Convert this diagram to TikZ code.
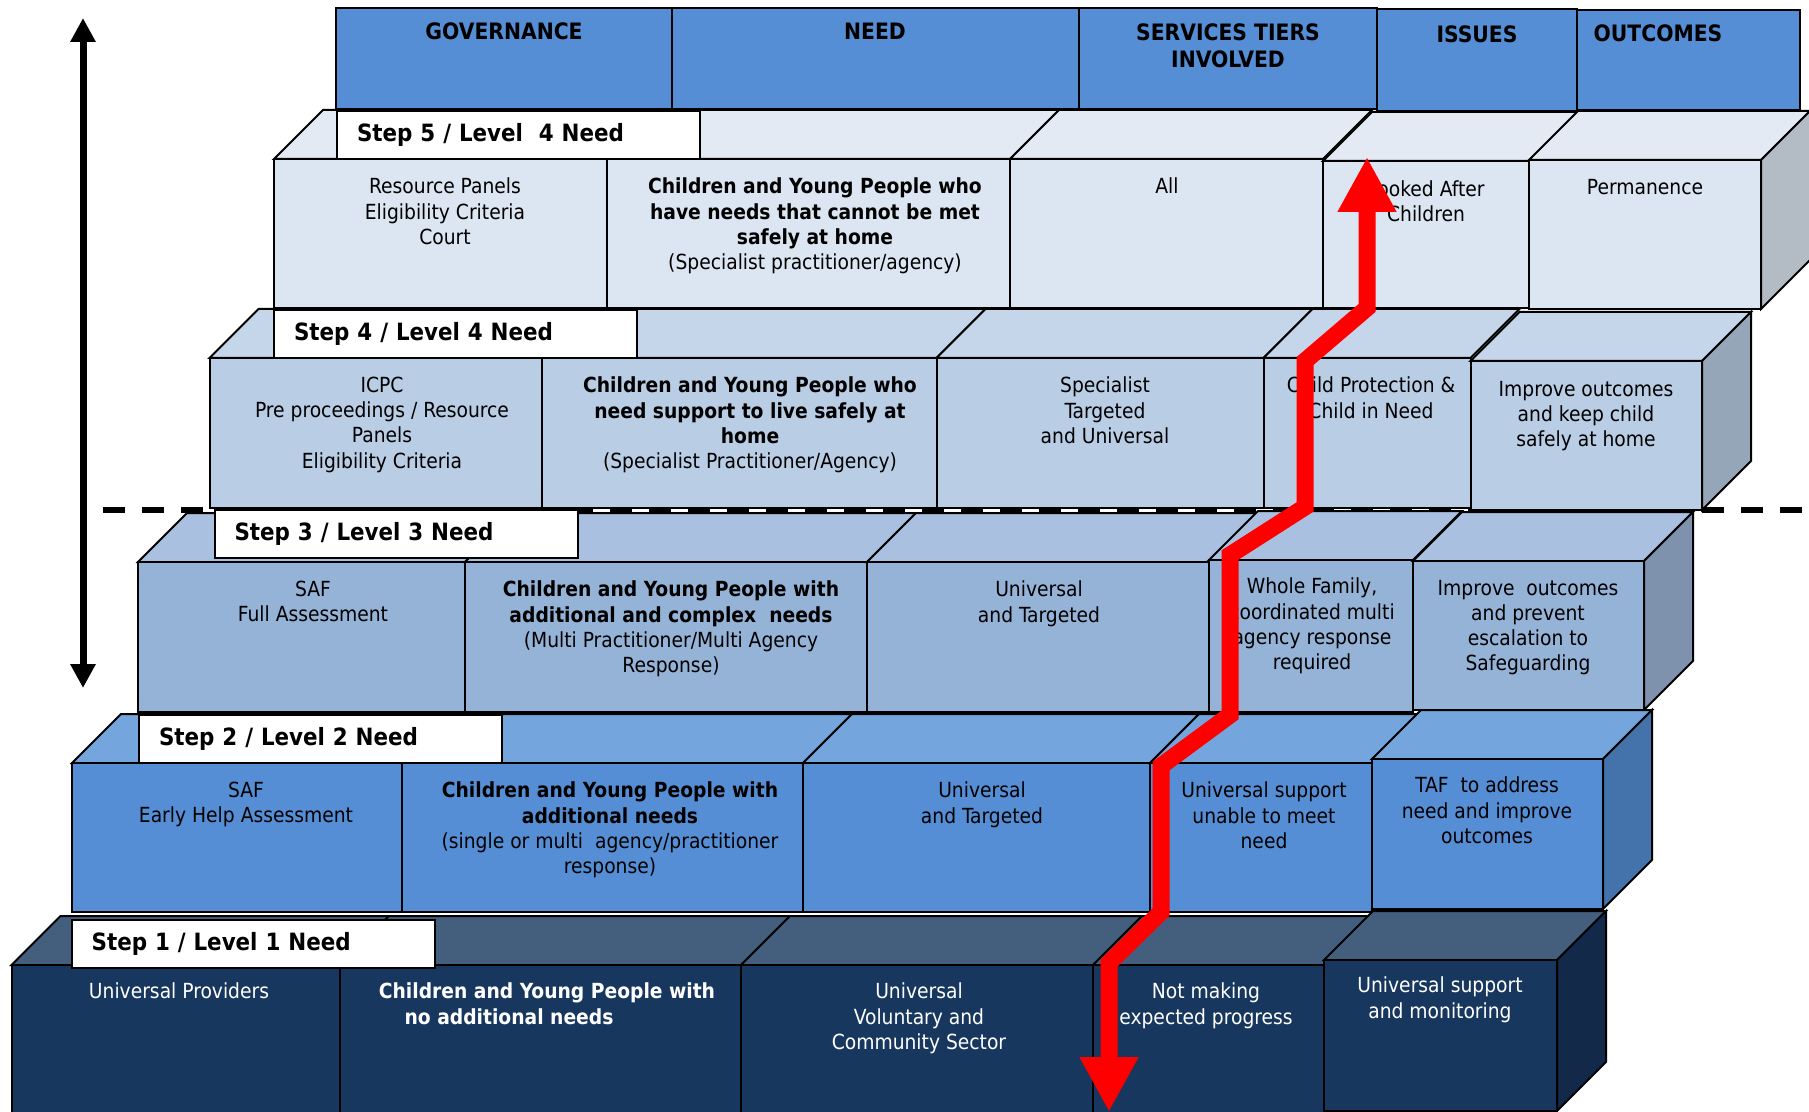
\documentclass[tikz,border=0pt]{standalone}
\usepackage{fontspec}
\setmainfont{DejaVu Sans Condensed}
\usetikzlibrary{arrows.meta}

\definecolor{head}{HTML}{558ED5}
\definecolor{front5}{HTML}{DCE6F2}
\definecolor{top5}{HTML}{E3EAF4}
\definecolor{side5}{HTML}{B3BBC5}
\definecolor{front4}{HTML}{B9CDE5}
\definecolor{top4}{HTML}{C6D6EA}
\definecolor{side4}{HTML}{95A6B8}
\definecolor{front3}{HTML}{95B3D7}
\definecolor{top3}{HTML}{AAC0E1}
\definecolor{side3}{HTML}{7E92AE}
\definecolor{front2}{HTML}{558ED5}
\definecolor{top2}{HTML}{74A5DD}
\definecolor{side2}{HTML}{4472AA}
\definecolor{front1}{HTML}{17375E}
\definecolor{top1}{HTML}{445F7E}
\definecolor{side1}{HTML}{12294A}

% one cell of a step: left, right, top, bottom, front colour, top colour
\newcommand{\stepcell}[6]{%
  \filldraw[fill=#6] (#1,#3) -- ++(49,-49) -- (#2+49,#3-49) -- (#2,#3) -- cycle;
  \filldraw[fill=#5] (#1,#3) rectangle (#2,#4);%
}
% side face at the right end: x, top, bottom, colour
\newcommand{\stepside}[4]{%
  \filldraw[fill=#4] (#1,#2) -- ++(49,-49) -- (#1+49,#3-49) -- (#1,#3) -- cycle;%
}

\begin{document}
\begin{tikzpicture}[x=0.5pt, y=-0.5pt, line width=1pt,
  headtext/.style={anchor=north, align=center, inner sep=0pt,
    font=\fontsize{11.3}{13.5}\selectfont\bfseries},
  celltext/.style={anchor=north, align=center, inner sep=0pt,
    font=\fontsize{10.4}{12.6}\selectfont},
  steplabel/.style={draw, fill=white, anchor=north west, text width=161.5pt,
    inner xsep=10pt, inner ysep=0pt, minimum height=24pt, align=left,
    font=\fontsize{11.9}{13}\selectfont\bfseries},
  levelline/.style={line width=3pt, dash pattern=on 11pt off 8.5pt},
  scalearrow/.style={line width=3.5pt,
    arrows={Triangle[width=12pt,length=12pt]-Triangle[width=12pt,length=12pt]}},
  redpath/.style={draw=red, line width=8.5pt,
    arrows={Triangle[width=27.5pt,length=27.5pt]-Triangle[width=27.5pt,length=27.5pt]}}]

\useasboundingbox (0,0) rectangle (1809,1112);

\draw[levelline] (103,510) -- (1809,510);

% header row
\filldraw[fill=head] (336,8) rectangle (672,109);
\filldraw[fill=head] (672,8) rectangle (1079,109);
\filldraw[fill=head] (1079,8) rectangle (1377,109);
\filldraw[fill=head] (1377,9) rectangle (1577,111);
\filldraw[fill=head] (1577,10) rectangle (1800,110);
\node[headtext] (hgov) at (504,22) {GOVERNANCE};
\node[headtext] (hneed) at (875,22) {NEED};
\node[headtext] (hserv) at (1228,23) {SERVICES TIERS\\INVOLVED};
\node[headtext] (hiss) at (1477,25) {ISSUES};
\node[headtext] (hout) at (1658,24) {OUTCOMES};

% step 5
\stepcell{274}{607}{159}{308}{front5}{top5}
\stepcell{607}{1010}{159}{308}{front5}{top5}
\stepcell{1010}{1323}{159}{308}{front5}{top5}
\stepcell{1323}{1529}{161}{308}{front5}{top5}
\stepcell{1529}{1761}{160}{309}{front5}{top5}
\stepside{1761}{160}{309}{side5}
\node[steplabel] (lab5) at (336,110) {Step 5 / Level\ \ 4 Need};
\node[celltext] (gov5) at (445,177) {Resource Panels\\Eligibility Criteria\\Court};
\node[celltext] (need5) at (815,177) {\textbf{Children and Young People who}\\\textbf{have needs that cannot be met}\\\textbf{safely at home}\\(Specialist practitioner/agency)};
\node[celltext] (serv5) at (1167,177) {All};
\node[celltext] (iss5) at (1426,180) {Looked After\\Children};
\node[celltext] (out5) at (1645,178) {Permanence};

% step 4
\stepcell{209.5}{542}{358}{508}{front4}{top4}
\stepcell{542}{936.5}{358}{508}{front4}{top4}
\stepcell{936.5}{1263.5}{358}{508}{front4}{top4}
\stepcell{1263.5}{1470.5}{358}{508}{front4}{top4}
\stepcell{1470.5}{1702}{361}{510}{front4}{top4}
\stepside{1702}{361}{510}{side4}
\node[steplabel] (lab4) at (273,309) {Step 4 / Level 4 Need};
\node[celltext] (gov4) at (382,376) {ICPC\\Pre proceedings / Resource\\Panels\\Eligibility Criteria};
\node[celltext] (need4) at (750,376) {\textbf{Children and Young People who}\\\textbf{need support to live safely at}\\\textbf{home}\\(Specialist Practitioner/Agency)};
\node[celltext] (serv4) at (1105,376) {Specialist\\Targeted\\and Universal};
\node[celltext] (iss4) at (1371,376) {Child Protection \&\\Child in Need};
\node[celltext] (out4) at (1586,380) {Improve outcomes\\and keep child\\safely at home};

% step 3
\stepcell{138}{465}{562}{712}{front3}{top3}
\stepcell{465}{867}{562}{712}{front3}{top3}
\stepcell{867}{1209}{562}{712}{front3}{top3}
\stepcell{1209}{1413}{560}{712}{front3}{top3}
\stepcell{1413}{1644}{561}{710}{front3}{top3}
\stepside{1644}{561}{710}{side3}
\node[steplabel] (lab3) at (213.5,509) {Step 3 / Level 3 Need};
\node[celltext] (gov3) at (313,580) {SAF\\Full Assessment};
\node[celltext] (need3) at (671,580) {\textbf{Children and Young People with}\\\textbf{additional and complex\ \ needs}\\(Multi Practitioner/Multi Agency\\Response)};
\node[celltext] (serv3) at (1039,580) {Universal\\and Targeted};
\node[celltext] (iss3) at (1312,577) {Whole Family,\\coordinated multi\\agency response\\required};
\node[celltext] (out3) at (1528,579) {Improve\ \ outcomes\\and prevent\\escalation to\\Safeguarding};

% step 2
\stepcell{72}{402}{763}{912}{front2}{top2}
\stepcell{402}{803}{763}{912}{front2}{top2}
\stepcell{803}{1150}{763}{912}{front2}{top2}
\stepcell{1150}{1372}{763}{912}{front2}{top2}
\stepcell{1372}{1603}{759}{909}{front2}{top2}
\stepside{1603}{759}{909}{side2}
\node[steplabel] (lab2) at (138,714) {Step 2 / Level 2 Need};
\node[celltext] (gov2) at (246,781) {SAF\\Early Help Assessment};
\node[celltext] (need2) at (610,781) {\textbf{Children and Young People with}\\\textbf{additional needs}\\(single or multi\ \ agency/practitioner\\response)};
\node[celltext] (serv2) at (982,781) {Universal\\and Targeted};
\node[celltext] (iss2) at (1264,781) {Universal support\\unable to meet\\need};
\node[celltext] (out2) at (1487,776) {TAF\ \ to address\\need and improve\\outcomes};

% step 1
\stepcell{11.5}{340}{965}{1116}{front1}{top1}
\stepcell{340}{741}{965}{1116}{front1}{top1}
\stepcell{741}{1093}{965}{1116}{front1}{top1}
\stepcell{1093}{1324}{965}{1116}{front1}{top1}
\stepcell{1324}{1557}{960}{1111}{front1}{top1}
\stepside{1557}{960}{1111}{side1}
\node[steplabel] (lab1) at (70.6,919) {Step 1 / Level 1 Need};
\node[celltext, text=white] (gov1) at (179,982) {Universal Providers};
\node[celltext, text=white] (need1) at (547,982) {\textbf{Children and Young People with}\\\textbf{no additional needs}\hspace*{38pt}};
\node[celltext, text=white] (serv1) at (919,982) {Universal\\Voluntary and\\Community Sector};
\node[celltext, text=white] (iss1) at (1206,982) {Not making\\expected progress};
\node[celltext, text=white] (out1) at (1440,976) {Universal support\\and monitoring};

% pathway arrow
\coordinate (pathtop) at (1367,157);
\coordinate (pathbot) at (1109,1112);
\draw[redpath] (pathtop) -- (1367,308) -- (1305,361) -- (1305,507) -- (1230,555)
  -- (1230,715) -- (1161,766) -- (1161,912) -- (1109,963) -- (pathbot);

% need scale arrow
\coordinate (scaletop) at (83,18);
\coordinate (scalebot) at (83,688);
\draw[scalearrow] (scalebot) -- (scaletop);

\end{tikzpicture}
\end{document}
